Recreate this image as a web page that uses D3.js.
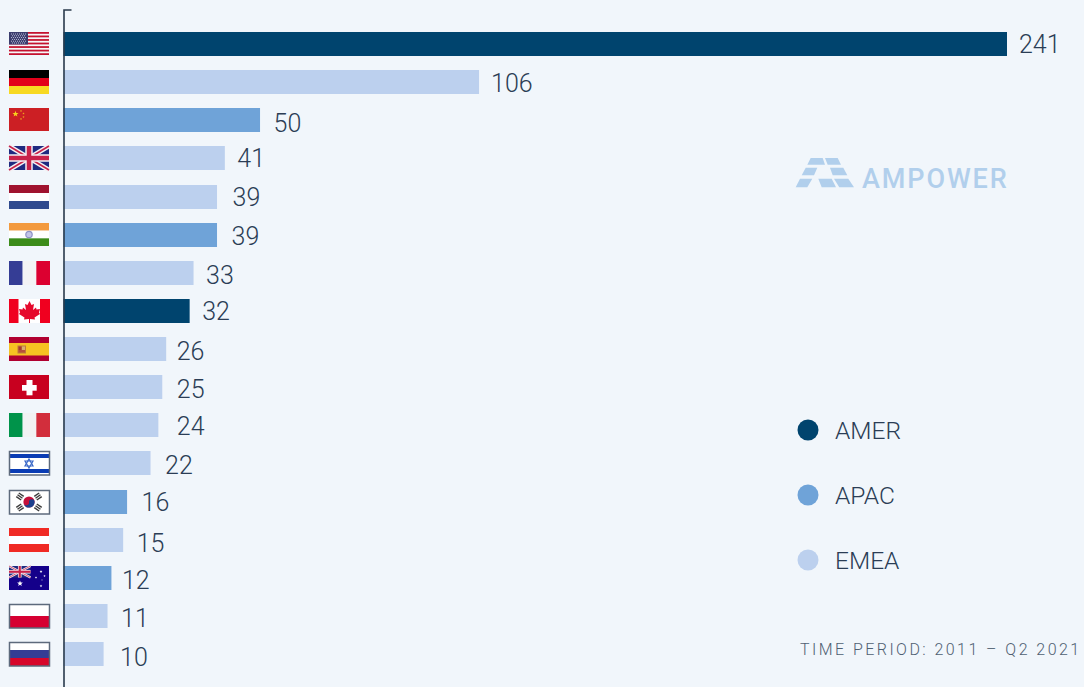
<!DOCTYPE html>
<html>
<head>
<meta charset="utf-8">
<script src="https://cdn.jsdelivr.net/npm/d3@7"></script>
<style>
  html, body { margin: 0; padding: 0; background: #f1f6fb; }
  svg { display: block; }
  text { font-family: Roboto, sans-serif; }
</style>
</head>
<body>
<svg id="chart" width="1084" height="687"></svg>
<script>
// Exits per country, 2011 – Q2 2021
const countries = ["us","de","cn","gb","nl","in","fr","ca","es","ch","it","il","kr","at","au","pl","ru"];
const values = [241,106,50,41,39,39,33,32,26,25,24,22,16,15,12,11,10];
const regions = ["AMER","EMEA","APAC","EMEA","EMEA","APAC","EMEA","AMER","EMEA","EMEA","EMEA","EMEA","APAC","EMEA","APAC","EMEA","EMEA"];
const legendRegions = ["AMER","APAC","EMEA"];
const periodNote = "TIME PERIOD: 2011 – Q2 2021";
const brandName = "AMPOWER";

// Hand placement of the value labels relative to the bar end: [dx, dy]
const labelNudge = [[12,0],[12,1],[13.5,3],[12.5,0],[15.5,0],[14.5,1],[12.5,2],[12.5,0],[10.5,2],[14.5,2],[18.5,1],[14.5,2],[14.5,0],[13.5,3],[10.5,2],[13.5,2],[16.5,3]];

const svg = d3.select("#chart");
const ink = "#2b3d55";

const colour = d3.scaleOrdinal().domain(legendRegions).range(["#00446e","#6fa3d8","#bcd0ee"]);
const x = d3.scaleLinear().domain([0, 241]).range([64.5, 1007]);
const y = d3.scaleBand().domain(countries).range([32, 666]).paddingInner(0.3705).paddingOuter(0);

const rows = countries.map((c, i) => ({ c, v: values[i], r: regions[i], nudge: labelNudge[i] }));
const barTop = d => Math.round(y(d.c));

// Bars run in under the axis line so no gap shows next to it
svg.append("g").selectAll("rect").data(rows).join("rect")
  .attr("x", x(0) - 1)
  .attr("y", barTop)
  .attr("width", d => x(d.v) - x(0) + 1)
  .attr("height", Math.round(y.bandwidth()))
  .attr("fill", d => colour(d.r));

// Value labels
svg.append("g").selectAll("text").data(rows).join("text")
  .attr("x", d => x(d.v) + d.nudge[0])
  .attr("y", d => barTop(d) + 12 + d.nudge[1])
  .attr("dy", "0.37em")
  .attr("font-size", 25)
  .attr("font-weight", 300)
  .attr("fill", ink)
  .text(d => d.v);

// Vertical axis with its single outer tick at the top
const axisScale = d3.scaleLinear().domain([0, 1]).range([9.5, 700]);
const axisG = svg.append("g").attr("transform", "translate(63.5,0)")
  .call(d3.axisRight(axisScale).tickValues([]).tickSizeOuter(8));
axisG.select(".domain").attr("stroke", "#2a3a4c").attr("stroke-width", 1.6);

// Flags: each one is drawn in a 40 x 24 box
const box = (g, x0, y0, w, h, fill) => g.append("rect").attr("x", x0).attr("y", y0).attr("width", w).attr("height", h).attr("fill", fill);
const star = (cx, cy, r) => d3.range(10).map(i => {
  const a = -Math.PI / 2 + i * Math.PI / 5, q = i % 2 ? r * 0.42 : r;
  return [cx + q * Math.cos(a), cy + q * Math.sin(a)];
}).join(" ");
const hBands = (g, cols, w = 40, h = 24) => {
  const scale = d3.scaleBand().domain(d3.range(cols.length)).range([0, h]);
  cols.forEach((col, i) => box(g, 0, scale(i), w, scale.bandwidth(), col));
};
const vBands = (g, cols, w = 41, h = 24) => {
  const scale = d3.scaleBand().domain(d3.range(cols.length)).range([0, w]);
  cols.forEach((col, i) => box(g, scale(i), 0, scale.bandwidth(), h, col));
};
const outline = (g, w = 40, h = 24) => g.append("rect").attr("x", 0.5).attr("y", 0.5).attr("width", w).attr("height", h - 0.5)
  .attr("fill", "none").attr("stroke", "#5d6a7c").attr("stroke-width", 1.5);

function unionJack(g, w, h) {
  box(g, 0, 0, w, h, "#1f2a80");
  const line = (x1, y1, x2, y2, col, sw) => g.append("line").attr("x1", x1).attr("y1", y1).attr("x2", x2).attr("y2", y2).attr("stroke", col).attr("stroke-width", sw);
  const k = h / 24;
  line(0, 0, w, h, "#f4f1f4", 4.5 * k); line(w, 0, 0, h, "#f4f1f4", 4.5 * k);
  line(0, 0, w, h, "#c8224a", 1.6 * k); line(w, 0, 0, h, "#c8224a", 1.6 * k);
  line(w / 2, 0, w / 2, h, "#f4f1f4", 7.5 * k); line(0, h / 2, w, h / 2, "#f4f1f4", 7.5 * k);
  line(w / 2, 0, w / 2, h, "#c8224a", 4.5 * k); line(0, h / 2, w, h / 2, "#c8224a", 4.5 * k);
}

const painters = {
  us(g) {
    box(g, 0, 0, 40, 23, "#f6f6f8");
    const s = d3.scaleBand().domain(d3.range(13)).range([0, 23]);
    d3.range(0, 13, 2).forEach(i => box(g, 0, s(i), 40, s.bandwidth(), "#c4122f"));
    box(g, 0, 0, 19, 12.5, "#3b3d6e");
    d3.range(6).forEach(r => d3.range(r % 2 ? 7 : 8).forEach(c =>
      box(g, 2 + c * 2 + (r % 2 ? 1 : 0), 1.5 + r * 1.8, 1, 1, "#b9bcd6")));
  },
  de(g) { hBands(g, ["#000000", "#e2001a", "#f7d922"]); },
  cn(g) {
    box(g, 0, 0, 40, 23, "#cc1f24");
    g.append("polygon").attr("points", star(6.5, 6, 3.2)).attr("fill", "#f7d01c");
    [[12, 3], [14.5, 5.5], [14.5, 9], [12, 11]].forEach(p =>
      g.append("polygon").attr("points", star(p[0], p[1], 1.2)).attr("fill", "#eda31e"));
  },
  gb(g) { unionJack(g, 40, 24); },
  nl(g) { hBands(g, ["#a0132f", "#ffffff", "#2f4a8e"]); },
  in(g) {
    hBands(g, ["#f39a3e", "#ffffff", "#3c8c1a"], 40, 23);
    g.append("circle").attr("cx", 20).attr("cy", 11.5).attr("r", 3.2).attr("fill", "#c3c5e8").attr("stroke", "#8f92c6").attr("stroke-width", 1.2);
  },
  fr(g) { vBands(g, ["#353d95", "#f3f3f5", "#dc0030"]); },
  ca(g) {
    box(g, 0, 0, 41, 24, "#f0001f");
    box(g, 9.5, 0, 21.5, 24, "#ffffff");
    g.append("polygon").attr("fill", "#e6092c").attr("points",
      "20.5,2 22.5,6 25,5 24,11 27,8.5 27.5,10.5 31,10 30,13.5 31,15 25.5,18.5 26,20.5 21,20 21,24 20,24 20,20 15,20.5 15.5,18.5 10,15 11,13.5 10,10 13.5,10.5 14,8.5 17,11 16,5 18.5,6");
  },
  es(g) {
    box(g, 0, 0, 40, 24, "#b00030");
    box(g, 0, 6, 40, 12.5, "#f6c322");
    box(g, 8.5, 8.5, 8.5, 8, "#c07a3a");
    box(g, 9.5, 9.5, 3, 3.5, "#a83a30");
    box(g, 13, 9.5, 3, 3.5, "#d8b070");
    box(g, 9.5, 13, 6.5, 2.5, "#b8503a");
  },
  ch(g) {
    box(g, 0, 0, 40, 24, "#c8001f");
    box(g, 17.5, 5, 6, 15.3, "#ffffff");
    box(g, 13, 10, 14.7, 5.7, "#ffffff");
  },
  it(g) { vBands(g, ["#00934a", "#f2f2f3", "#d22e3c"]); },
  il(g) {
    box(g, 0, 0, 40, 24, "#ffffff");
    box(g, 0, 3, 40, 4, "#0a3cb4");
    box(g, 0, 18, 40, 4, "#0a3cb4");
    g.append("polygon").attr("points", "20,8 24,15 16,15").attr("fill", "none").attr("stroke", "#3a68c8").attr("stroke-width", 1.2);
    g.append("polygon").attr("points", "20,17 24,10 16,10").attr("fill", "none").attr("stroke", "#3a68c8").attr("stroke-width", 1.2);
    outline(g);
  },
  kr(g) {
    box(g, 0, 0, 40, 24, "#ffffff");
    g.append("circle").attr("cx", 20).attr("cy", 12).attr("r", 5.6).attr("fill", "#c40f3a");
    g.append("path").attr("d", "M14.6,13.4 A5.6,5.6 0 0 0 25.6,12 A2.8,2.8 0 0 0 20,12 A2.8,2.8 0 0 1 14.6,13.4 Z").attr("fill", "#1b3f8c");
    [[11, 6.5, 35], [29, 6.5, -35], [11, 17.5, -35], [29, 17.5, 35]].forEach(t => {
      const mark = g.append("g").attr("transform", `translate(${t[0]},${t[1]}) rotate(${t[2]})`);
      [-2.2, 0, 2.2].forEach(o => box(mark, -3, o - 0.7, 6, 1.4, "#3a3a3a"));
    });
    outline(g);
  },
  at(g) { hBands(g, ["#f02a24", "#ffffff", "#f02a24"]); },
  au(g) {
    box(g, 0, 0, 40, 24, "#14008a");
    unionJack(g.append("g"), 21.5, 11.5);
    g.append("polygon").attr("points", star(11, 17.5, 3)).attr("fill", "#ffffff");
    [[32, 5.5, 1.5], [35.5, 10, 1.2], [27, 11.5, 1.2], [33, 14, 0.8], [32, 20, 1.4]].forEach(p =>
      g.append("polygon").attr("points", star(p[0], p[1], p[2])).attr("fill", "#ffffff"));
  },
  pl(g) { hBands(g, ["#ffffff", "#d60032"]); outline(g); },
  ru(g) { hBands(g, ["#ffffff", "#343d94", "#d7062a"]); outline(g); }
};

const flagLayer = svg.append("g");
rows.forEach(d => {
  const g = flagLayer.append("g").attr("transform", `translate(9,${barTop(d)})`);
  painters[d.c](g);
});

// Brand mark and wordmark
const brand = svg.append("g").attr("fill", "#b1cfec");
[
  "810.7,158 822.7,158 825,164.7 807.3,164.7",
  "825,158 837.7,158 841,164.7 827.7,164.7",
  "805.7,167.7 817.3,167.7 814,175.3 801.7,175.3",
  "830,167.7 843.3,167.7 847.3,175.3 832.7,175.3",
  "800,178.7 812.3,178.7 807.3,187.3 795.7,187.3",
  "818.3,178.7 831.7,178.7 836,187.3 821.7,187.3",
  "834,178.7 848.3,178.7 854,187.3 839.3,187.3"
].forEach(p => brand.append("polygon").attr("points", p));
brand.append("text").attr("x", 862).attr("y", 187.5)
  .attr("font-size", 27).attr("font-weight", 500).attr("letter-spacing", 1.9).text(brandName);

// Legend
const legendY = d3.scalePoint().domain(legendRegions).range([430, 560]);
const legend = svg.append("g").selectAll("g").data(legendRegions).join("g")
  .attr("transform", d => `translate(0,${legendY(d)})`);
legend.append("circle").attr("cx", 808).attr("r", 10.5).attr("fill", d => colour(d));
legend.append("text").attr("x", 835).attr("dy", "0.38em")
  .attr("font-size", 24.5).attr("font-weight", 300).attr("fill", ink).text(d => d);

// Period note
svg.append("text").attr("x", 800).attr("y", 655)
  .attr("font-size", 16).attr("font-weight", 300).attr("letter-spacing", 2.45)
  .attr("fill", "#4f6072").text(periodNote);
</script>
</body>
</html>
